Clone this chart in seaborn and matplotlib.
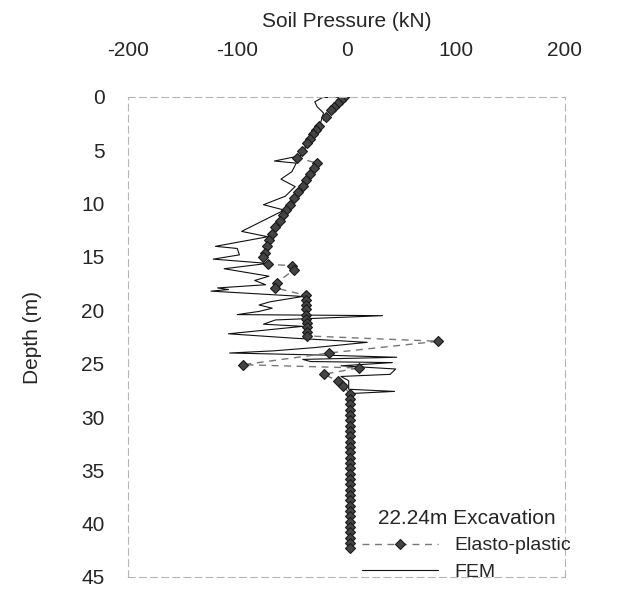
import matplotlib
matplotlib.use("Agg")
import matplotlib.pyplot as plt
import seaborn as sns
import pandas as pd

# Elasto-plastic solution (depth in m, soil pressure in kN)
ep_depth = [0.0, 0.3, 0.6, 0.9, 1.2, 1.9, 2.7, 3.1, 3.5, 3.9, 4.3, 5.1, 5.7,
            6.2, 6.7, 7.2, 7.8, 8.3, 8.9, 9.5, 10.1, 10.6, 11.1, 11.6, 12.2, 12.8, 13.4, 14.0, 14.6, 15.0,
            15.7, 15.8, 16.2, 17.4, 17.9,
            18.6, 19.0, 19.5, 19.9, 20.4, 20.8, 21.2, 21.6, 22.0, 22.4,
            22.9, 24.0, 25.1, 25.4, 26.0, 26.6, 27.1,
            27.8, 28.3, 28.8, 29.3, 29.8, 30.3, 30.8, 31.3, 31.8, 32.3, 32.8, 33.3, 33.8, 34.3, 34.8,
            35.3, 35.8, 36.3, 36.8, 37.3, 37.8, 38.3, 38.8, 39.3, 39.8, 40.3, 40.8, 41.3, 41.8, 42.3]
ep_pressure = [-2, -5, -8, -11, -14, -19, -25, -28, -31, -33, -36, -41, -45,
               -27, -30, -33, -37, -40, -44, -48, -52, -55, -58, -61, -65, -68, -71, -73, -75, -76,
               -72, -50, -48, -64, -65,
               -37, -37, -37, -37, -37, -37, -36, -36, -36, -36,
               84, -16, -95, 11, -21, -8, -3,
               3, 3, 3, 3, 3, 3, 3, 3, 3, 3, 3, 3, 3, 3, 3,
               3, 3, 3, 3, 3, 3, 3, 3, 3, 3, 3, 3, 3, 3, 3]

# FEM result
fem_depth = [0.0, 0.05, 0.45, 0.9, 1.5, 2.5, 3.5, 4.5, 5.5, 6.0, 6.2, 7.0, 7.7, 8.4, 9.3,
             10.1, 10.6, 12.6, 13.1, 14.0, 14.2, 14.8, 15.2, 15.6, 16.1, 16.8, 17.2, 17.6,
             17.9, 18.05, 18.2, 18.7, 19.2, 19.5, 19.8, 20.1, 20.4, 20.5, 20.9, 21.3, 21.5,
             22.2, 22.6, 23.0, 23.5, 23.8, 24.0, 24.2, 24.4, 24.6, 24.8, 24.9, 25.2, 25.5,
             26.0, 26.2, 26.6, 27.4, 27.6, 27.8, 30.0, 35.0, 42.3]
fem_pressure = [0, -22, -29, -27, -21, -24, -30, -36, -42, -66, -46, -50, -60, -47, -56,
                -76, -57, -96, -72, -120, -100, -98, -122, -72, -112, -71, -84, -74,
                -118, -108, -124, -40, -70, -80, -68, -80, -100, 33, -65, -76, -40,
                -108, -50, 19, -30, -67, -107, -20, 46, -40, -33, 42, -5, 45,
                40, -5, 2, 2, 44, 4, 4, 4, 4]

ep_df = pd.DataFrame({"Depth": ep_depth, "Pressure": ep_pressure})
fem_df = pd.DataFrame({"Depth": fem_depth, "Pressure": fem_pressure})

sns.set_theme(style="white")
plt.rcParams["font.family"] = ["Liberation Sans", "DejaVu Sans"]
plt.rcParams["axes.unicode_minus"] = False

fig = plt.figure(figsize=(6.22, 6.13), dpi=100)
ax = fig.add_axes([128 / 622, 36 / 613, 437 / 622, 480 / 613])

sns.lineplot(data=fem_df, x="Pressure", y="Depth", sort=False, estimator=None,
             color="#111111", linewidth=0.8, ax=ax, label="FEM")
sns.lineplot(data=ep_df, x="Pressure", y="Depth", sort=False, estimator=None,
             color="#777777", linewidth=1.0, linestyle=(0, (5, 4)), marker="D",
             markersize=5.5, markerfacecolor="#444444", markeredgecolor="#1a1a1a",
             markeredgewidth=0.8, ax=ax, label="Elasto-plastic")

ax.set_xlim(-200, 200)
ax.set_ylim(45, 0)
ax.set_xticks([-200, -100, 0, 100, 200])
ax.set_yticks([0, 5, 10, 15, 20, 25, 30, 35, 40, 45])
ax.xaxis.tick_top()
ax.xaxis.set_label_position("top")
ax.tick_params(axis="x", length=0, pad=27, labelsize=15)
ax.tick_params(axis="y", length=0, pad=17, labelsize=15)
ax.set_xlabel("Soil Pressure (kN)", fontsize=15, labelpad=10)
ax.set_ylabel("Depth (m)", fontsize=15, labelpad=28)

for side in ["left", "right", "top", "bottom"]:
    ax.spines[side].set_color("#b5b5b5")
    ax.spines[side].set_linewidth(0.8)
    ax.spines[side].set_linestyle((0, (6, 4)))

handles, labels = ax.get_legend_handles_labels()
leg = ax.legend(handles[::-1], labels[::-1], title="22.24m Excavation",
                loc="upper left", bbox_to_anchor=(362 / 622, 1 - 509 / 613),
                bbox_transform=fig.transFigure, frameon=False, fontsize=14,
                title_fontsize=15, handlelength=3.9, handletextpad=0.85,
                labelspacing=0.45, borderpad=0, borderaxespad=0)

fig.savefig("out.png", dpi=100)
plt.close(fig)
